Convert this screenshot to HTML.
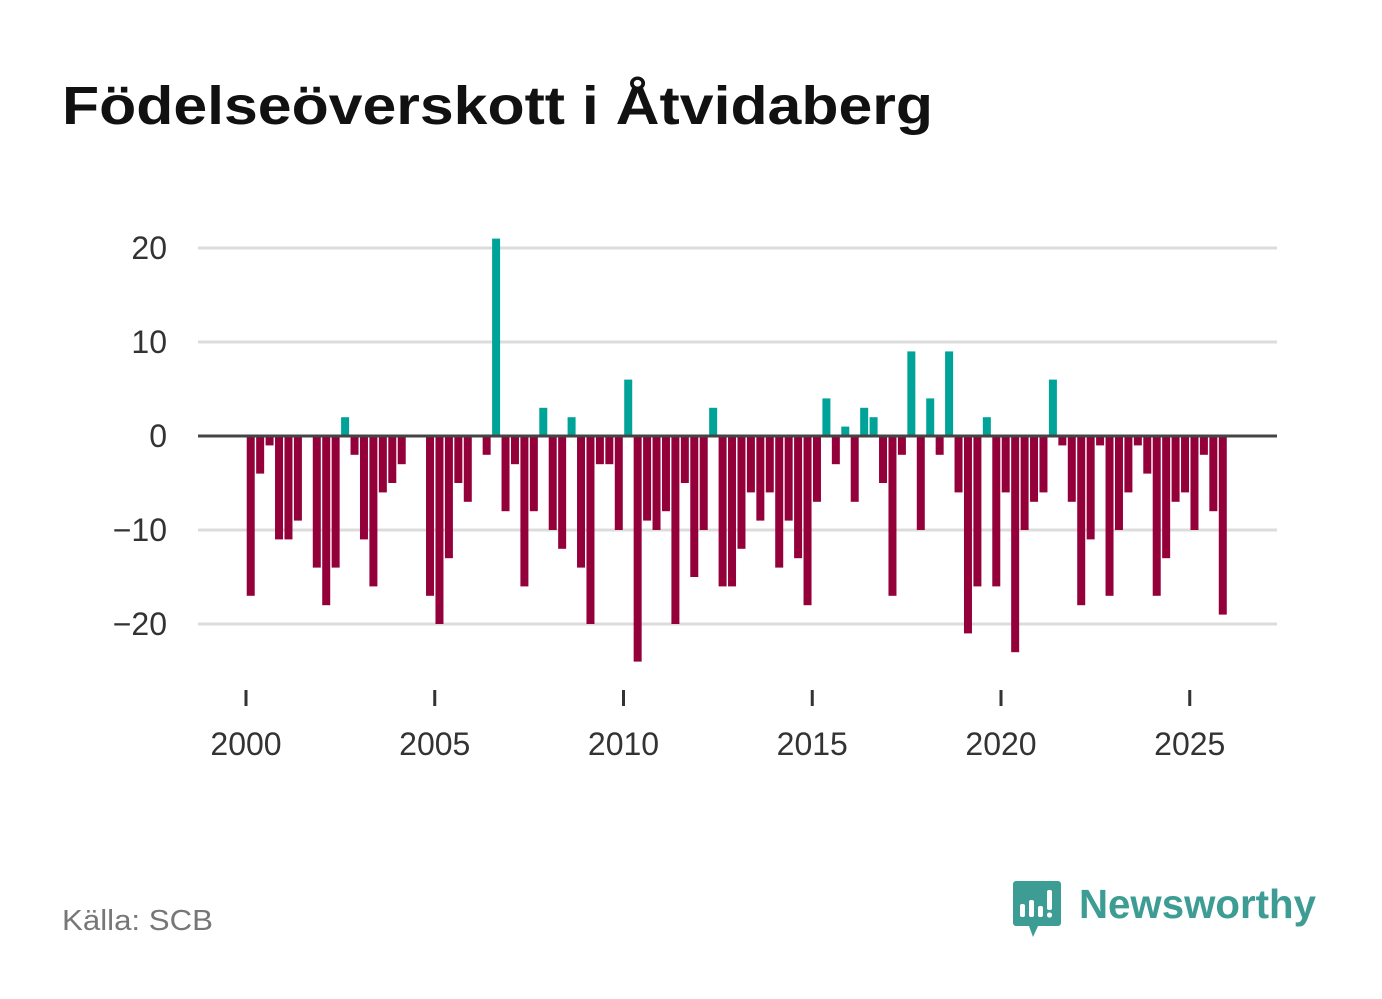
<!DOCTYPE html>
<html><head><meta charset="utf-8"><style>
body{margin:0;background:#fff;font-family:"Liberation Sans",sans-serif;}
#wrap{position:relative;width:1382px;height:999px;overflow:hidden;}
</style></head><body>
<div id="wrap">
<svg id="chart" width="1382" height="999">
<text x="62" y="124" font-size="54" font-weight="bold" fill="#111" textLength="871" lengthAdjust="spacingAndGlyphs" font-family="Liberation Sans, sans-serif">Födelseöverskott i Åtvidaberg</text>
<g id="grid"></g>
<g id="bars"></g>
<g id="xaxis"></g>
<text x="62" y="930" font-size="29" fill="#777" textLength="151" lengthAdjust="spacingAndGlyphs">Källa: SCB</text>
<g>
<path d="M1016 881 h42 a3 3 0 0 1 3 3 v39 a3 3 0 0 1 -3 3 h-20 l-5 11 l-4 -11 h-13 a3 3 0 0 1 -3 -3 v-39 a3 3 0 0 1 3 -3z" fill="#3d9c94"/>
<rect x="1020" y="904" width="5" height="13" rx="2" fill="#fff"/>
<rect x="1029" y="900" width="5" height="17" rx="2" fill="#fff"/>
<rect x="1038" y="906" width="5" height="11" rx="2" fill="#fff"/>
<rect x="1047" y="890" width="5" height="20" rx="2" fill="#fff"/>
<circle cx="1049.5" cy="915" r="2.6" fill="#fff"/>
<text x="1079" y="918" font-size="41" font-weight="bold" fill="#3d9c94" textLength="237" lengthAdjust="spacingAndGlyphs">Newsworthy</text>
</g>
</svg>
</div>
<script>
const values=[-17,-4,-1,-11,-11,-9,0,-14,-18,-14,2,-2,-11,-16,-6,-5,-3,0,0,-17,-20,-13,-5,-7,0,-2,21,-8,-3,-16,-8,3,-10,-12,2,-14,-20,-3,-3,-10,6,-24,-9,-10,-8,-20,-5,-15,-10,3,-16,-16,-12,-6,-9,-6,-14,-9,-13,-18,-7,4,-3,1,-7,3,2,-5,-17,-2,9,-10,4,-2,9,-6,-21,-16,2,-16,-6,-23,-10,-7,-6,6,-1,-7,-18,-11,-1,-17,-10,-6,-1,-4,-17,-13,-7,-6,-10,-2,-8,-19];
const startYear=2000;
const yTicks=[20,10,0,-10,-20];
const xTicks=[2000,2005,2010,2015,2020,2025];
const NS="http://www.w3.org/2000/svg";
function y(v){return 436-v*9.4;}
function x(yr){return 246+(yr-2000)*37.75;}
function mk(t,a){const e=document.createElementNS(NS,t);for(const k in a)e.setAttribute(k,a[k]);return e;}
const grid=document.getElementById('grid'),bars=document.getElementById('bars'),xa=document.getElementById('xaxis');
yTicks.forEach(t=>{
 if(t!==0){const l=mk('line',{x1:198,x2:1277,y1:y(t),y2:y(t),stroke:'#dcdcdc','stroke-width':3});
 
 grid.appendChild(l);}
 const tx=mk('text',{x:167,y:y(t)+11,'text-anchor':'end','font-size':32,fill:'#333'});
 tx.textContent=(t<0?'\u2212'+(-t):String(t));
 
 grid.appendChild(tx);
});
values.forEach((v,i)=>{
 if(v===0)return;
 const cx=x(startYear+(i+0.5)/4);
 const r=mk('rect',{x:cx-4,width:8,y:v>0?y(v):y(0),height:Math.abs(v)*9.4,fill:v>0?'#00a398':'#94003a'});
 
 bars.appendChild(r);
});
const zl=mk('line',{x1:198,x2:1277,y1:y(0),y2:y(0),stroke:'#444','stroke-width':3});

bars.appendChild(zl);
xTicks.forEach(t=>{
 const l=mk('line',{x1:x(t),x2:x(t),y1:690,y2:706,stroke:'#333','stroke-width':3});
 
 xa.appendChild(l);
 const tx=mk('text',{x:x(t),y:755,'text-anchor':'middle','font-size':32,fill:'#333'});
 tx.textContent=t;
 
 xa.appendChild(tx);
});
</script>
</body></html>
